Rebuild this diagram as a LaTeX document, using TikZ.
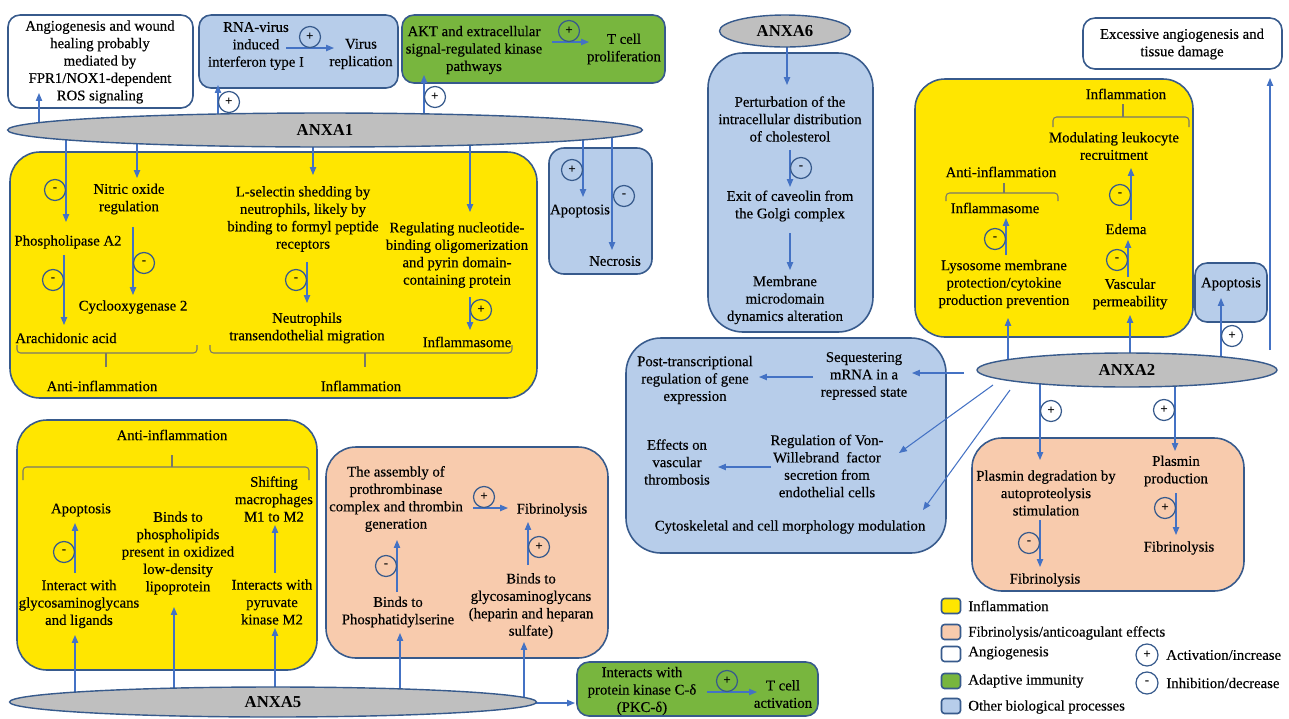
\documentclass[tikz,border=0pt]{standalone}
\usepackage{fontspec}
\setmainfont{Liberation Serif}[UprightFeatures={FakeBold=0.3}]
\usetikzlibrary{arrows.meta,fit,shapes.geometric}
\definecolor{cyel}{RGB}{255,230,0}
\definecolor{csal}{RGB}{248,203,173}
\definecolor{cblu}{RGB}{183,205,234}
\definecolor{cgrn}{RGB}{120,182,62}
\definecolor{cbrd}{RGB}{55,90,140}
\definecolor{carr}{RGB}{68,114,196}
\definecolor{cgry}{RGB}{191,191,191}
\definecolor{cbrc}{RGB}{120,120,105}
\newcommand\fsz{\fontsize{8.4}{9.9}\selectfont}
\newcommand\fsg{\fontsize{7.5}{7.5}\selectfont\bfseries}
\begin{document}
\begin{tikzpicture}[x=0.02cm,y=-0.02cm,
  txt/.style={font=\fsz, align=center, inner sep=0pt},
  ltxt/.style={font=\fsz, anchor=west, inner sep=0pt},
  bx/.style={draw=cbrd, line width=0.9pt, inner sep=0pt},
  wbox/.style={bx, fill=white, rounded corners=0.24cm},
  bbox/.style={bx, fill=cblu, rounded corners=0.3cm},
  gbox/.style={bx, fill=cgrn, rounded corners=0.24cm},
  ybox/.style={bx, fill=cyel, rounded corners=0.6cm},
  sbox/.style={bx, fill=csal, rounded corners=0.6cm},
  bbig/.style={bx, fill=cblu, rounded corners=0.7cm},
  ell/.style={ellipse, draw=cbrd, line width=0.8pt, fill=cgry, inner sep=0pt, font=\fontsize{9.5}{9.5}\selectfont\bfseries},
  arr/.style={draw=carr, line width=0.6pt, -{Triangle[length=4.5pt,width=3.6pt]}},
  sgn/.style={circle, draw=cbrd, line width=0.7pt, minimum size=0.42cm, inner sep=0pt, font=\fsg},
  brc/.style={draw=cbrc, line width=0.6pt, rounded corners=0.07cm},
  leg/.style={bx, rounded corners=0.06cm, minimum width=0.38cm, minimum height=0.3cm}
]
\useasboundingbox (0,0) rectangle (1289,718);

% ---------------- boxes ----------------
\node[wbox, fit={(8,15)(193,108)}] (bw1) {};
\node[bbox, rounded corners=0.24cm, fit={(199,15)(398,88)}] (bb1) {};
\node[gbox, fit={(402,15)(665,83)}] (bg1) {};
\node[ybox, fit={(10,152)(537,398)}] (by1) {};
\node[bbox, fit={(549,148)(652,274)}] (bb2) {};
\node[bbox, rounded corners=0.7cm, fit={(708,53)(873,332)}] (bb3) {};
\node[wbox, fit={(1083,18)(1282,69)}] (bw2) {};
\node[ybox, fit={(915,79)(1193,337)}] (by2) {};
\node[bbox, rounded corners=0.24cm, fit={(1195,263)(1267,322)}] (bb4) {};
\node[bbig, fit={(626,338)(946,553)}] (bb5) {};
\node[sbox, fit={(972,438)(1244,591)}] (bs1) {};
\node[ybox, fit={(17,420)(317,670)}] (by3) {};
\node[sbox, fit={(326,447)(608,658)}] (bs2) {};
\node[gbox, fit={(577,662)(818,716)}] (bg2) {};

% ---------------- texts: top ----------------
\node[txt] (t1) at (100,62) {Angiogenesis and wound\\healing probably\\mediated by\\FPR1/NOX1-dependent\\ROS signaling};
\node[txt] (t2) at (256,46) {RNA-virus\\induced\\interferon type I};
\node[txt] (t3) at (361,54) {Virus\\replication};
\node[txt] (t4) at (474,50) {AKT and extracellular\\signal-regulated kinase\\pathways};
\node[txt] (t5) at (624,49) {T cell\\proliferation};

% ANXA1 yellow
\node[txt] (t6) at (129,199) {Nitric oxide\\regulation};
\node[txt] (t7) at (68,242) {Phospholipase A2};
\node[txt] (t8) at (133,307) {Cyclooxygenase 2};
\node[txt] (t9) at (66,338) {Arachidonic acid};
\node[txt] (t10) at (303,219) {L-selectin shedding by\\neutrophils, likely by\\binding to formyl peptide\\receptors};
\node[txt] (t11) at (307,328) {Neutrophils\\transendothelial migration};
\node[txt] (t12) at (457,255) {Regulating nucleotide-\\binding oligomerization\\and pyrin domain-\\containing protein};
\node[txt] (t13) at (467,342) {Inflammasome};
\node[txt] (t14) at (102,386) {Anti-inflammation};
\node[txt] (t15) at (361,386) {Inflammation};
\node[txt] (t16) at (580,211) {Apoptosis};
\node[txt] (t17) at (615,261) {Necrosis};

% ANXA6
\node[txt] (t18) at (790,119) {Perturbation of the\\intracellular distribution\\of cholesterol};
\node[txt] (t19) at (790,206) {Exit of caveolin from\\the Golgi complex};
\node[txt] (t20) at (785,300) {Membrane\\microdomain\\dynamics alteration};

% ANXA2 top
\node[txt] (t21) at (1182,44) {Excessive angiogenesis and\\tissue damage};
\node[txt] (t22) at (1126,94) {Inflammation};
\node[txt] (t23) at (1114,146) {Modulating leukocyte\\recruitment};
\node[txt] (t24) at (1126,229) {Edema};
\node[txt] (t25) at (1130,294) {Vascular\\permeability};
\node[txt] (t26) at (1001,172) {Anti-inflammation};
\node[txt] (t27) at (995,208) {Inflammasome};
\node[txt] (t28) at (1004,284) {Lysosome membrane\\protection/cytokine\\production prevention};
\node[txt] (t29) at (1231,284) {Apoptosis};

% ANXA2 big blue
\node[txt] (t30) at (695,380) {Post-transcriptional\\regulation of gene\\expression};
\node[txt] (t31) at (864,376) {Sequestering\\mRNA in a\\repressed state};
\node[txt] (t32) at (677,462) {Effects on\\vascular\\thrombosis};
\node[txt] (t33) at (827,466) {Regulation of Von-\\Willebrand~ factor\\secretion from\\endothelial cells};
\node[txt] (t34) at (790,527) {Cytoskeletal and cell morphology modulation};

% ANXA2 salmon
\node[txt] (t35) at (1046,493) {Plasmin degradation by\\autoproteolysis\\stimulation};
\node[txt] (t36) at (1045,580) {Fibrinolysis};
\node[txt] (t37) at (1176,471) {Plasmin\\production};
\node[txt] (t38) at (1179,548) {Fibrinolysis};

% ANXA5 yellow
\node[txt] (t39) at (172,435) {Anti-inflammation};
\node[txt] (t40) at (274,499) {Shifting\\macrophages\\M1 to M2};
\node[txt] (t41) at (81,510) {Apoptosis};
\node[txt] (t42) at (178,553) {Binds to\\phospholipids\\present in oxidized\\low-density\\lipoprotein};
\node[txt] (t43) at (79,604) {Interact with\\glycosaminoglycans\\and ligands};
\node[txt] (t44) at (272,602) {Interacts with\\pyruvate\\kinase M2};

% ANXA5 salmon
\node[txt] (t45) at (396,499) {The assembly of\\prothrombinase\\complex and thrombin\\generation};
\node[txt] (t46) at (552,510) {Fibrinolysis};
\node[txt] (t47) at (398,612) {Binds to\\Phosphatidylserine};
\node[txt] (t48) at (531,606) {Binds to\\glycosaminoglycans\\(heparin and heparan\\sulfate)};

% ANXA5 green
\node[txt] (t49) at (642,691) {Interacts with\\protein kinase C-δ\\(PKC-δ)};
\node[txt] (t50) at (783,694) {T cell\\activation};

% ---------------- braces ----------------
\draw[brc] (17,345) -- (17,353) -- (197,353) -- (197,345);
\draw[brc] (106,353) -- (106,367);
\draw[brc] (210,345) -- (210,353) -- (512,353) -- (512,345);
\draw[brc] (365,353) -- (365,367);
\draw[brc] (1053,127) -- (1053,117) -- (1189,117) -- (1189,127);
\draw[brc] (1123,117) -- (1123,104);
\draw[brc] (946,201) -- (946,193) -- (1058,193) -- (1058,201);
\draw[brc] (1004,193) -- (1004,183);
\draw[brc] (23,480) -- (23,467) -- (309,467) -- (309,480);
\draw[brc] (172,467) -- (172,455);

% ---------------- arrow end points ----------------
\path (39,125) coordinate (p1) (39,93) coordinate (q1)
      (218,130) coordinate (p2) (218,85) coordinate (q2)
      (286,48) coordinate (p3) (334,48) coordinate (q3)
      (424,130) coordinate (p4) (424,75) coordinate (q4)
      (552,42) coordinate (p5) (589,42) coordinate (q5)
      (66,130) coordinate (p6) (66,222) coordinate (q6)
      (137,130) coordinate (p7) (137,178) coordinate (q7)
      (313,130) coordinate (p8) (313,175) coordinate (q8)
      (470,130) coordinate (p9) (470,212) coordinate (q9)
      (583,130) coordinate (p10) (583,197) coordinate (q10)
      (612,130) coordinate (p11) (612,250) coordinate (q11)
      (133,227) coordinate (p12) (133,295) coordinate (q12)
      (64,255) coordinate (p13) (64,325) coordinate (q13)
      (307,262) coordinate (p14) (307,303) coordinate (q14)
      (470,297) coordinate (p15) (470,330) coordinate (q15)
      (787,31) coordinate (p16) (787,85) coordinate (q16)
      (790,150) coordinate (p17) (790,187) coordinate (q17)
      (790,233) coordinate (p18) (790,270) coordinate (q18)
      (1008,370) coordinate (p19) (1008,318) coordinate (q19)
      (1130,370) coordinate (p20) (1130,315) coordinate (q20)
      (1006,255) coordinate (p21) (1006,218) coordinate (q21)
      (1128,277) coordinate (p22) (1128,240) coordinate (q22)
      (1131,220) coordinate (p23) (1131,168) coordinate (q23)
      (1221,370) coordinate (p24) (1221,298) coordinate (q24)
      (1270,350) coordinate (p25) (1270,78) coordinate (q25)
      (964,373) coordinate (p26) (912,373) coordinate (q26)
      (813,377) coordinate (p27) (759,377) coordinate (q27)
      (771,467) coordinate (p28) (718,467) coordinate (q28)
      (993,385) coordinate (p29) (899,453) coordinate (q29)
      (1010,390) coordinate (p30) (923,510) coordinate (q30)
      (1040,370) coordinate (p31) (1040,460) coordinate (q31)
      (1175,370) coordinate (p32) (1175,451) coordinate (q32)
      (1040,520) coordinate (p33) (1040,567) coordinate (q33)
      (1176,493) coordinate (p34) (1176,535) coordinate (q34)
      (75,702) coordinate (p35) (75,635) coordinate (q35)
      (174,702) coordinate (p36) (174,607) coordinate (q36)
      (275,702) coordinate (p37) (275,628) coordinate (q37)
      (75,573) coordinate (p38) (75,523) coordinate (q38)
      (275,573) coordinate (p39) (275,525) coordinate (q39)
      (400,702) coordinate (p40) (400,633) coordinate (q40)
      (524,702) coordinate (p41) (524,642) coordinate (q41)
      (473,508) coordinate (p42) (508,508) coordinate (q42)
      (397,592) coordinate (p43) (397,540) coordinate (q43)
      (528,565) coordinate (p44) (528,522) coordinate (q44)
      (530,703) coordinate (p45) (575,703) coordinate (q45)
      (707,692) coordinate (p46) (757,692) coordinate (q46);
\foreach \i in {1,...,46} { \draw[arr] (p\i) -- (q\i); }

% ---------------- ellipses ----------------
\node[ell, minimum width=12.7cm, minimum height=0.68cm] (e1) at (325,130) {ANXA1};
\node[ell, minimum width=2.62cm, minimum height=0.64cm] (e6) at (785,31) {ANXA6};
\node[ell, minimum width=6cm, minimum height=0.68cm] (e2) at (1127,370) {ANXA2};
\node[ell, minimum width=10.54cm, minimum height=0.6cm] (e5) at (273,702) {ANXA5};

% ---------------- signs ----------------
\node[sgn] (s1) at (310,37) {+};
\node[sgn] (s2) at (229,102) {+};
\node[sgn] (s3) at (569,31) {+};
\node[sgn] (s4) at (435,97) {+};
\node[sgn] (s5) at (55,190) {-};
\node[sgn] (s6) at (144,263) {-};
\node[sgn] (s7) at (53,280) {-};
\node[sgn] (s8) at (296,280) {-};
\node[sgn] (s9) at (481,310) {+};
\node[sgn] (s10) at (572,170) {+};
\node[sgn] (s11) at (624,196) {-};
\node[sgn] (s12) at (801,168) {-};
\node[sgn] (s13) at (1120,195) {-};
\node[sgn] (s14) at (1117,260) {-};
\node[sgn] (s15) at (995,239) {-};
\node[sgn] (s16) at (1232,336) {+};
\node[sgn] (s17) at (1051,411) {+};
\node[sgn] (s18) at (1164,410) {+};
\node[sgn] (s19) at (1029,543) {-};
\node[sgn] (s20) at (1165,508) {+};
\node[sgn] (s21) at (64,552) {-};
\node[sgn] (s22) at (484,497) {+};
\node[sgn] (s23) at (386,566) {-};
\node[sgn] (s24) at (539,547) {+};
\node[sgn] (s25) at (727,681) {+};

% ---------------- legend ----------------
\node[leg, fill=cyel] (l1) at (951,606) {};
\node[leg, fill=csal] (l2) at (951,632) {};
\node[leg, fill=white] (l3) at (951,654) {};
\node[leg, fill=cgrn] (l4) at (951,681) {};
\node[leg, fill=cblu] (l5) at (951,706) {};
\node[ltxt] (lt1) at (968,606) {Inflammation};
\node[ltxt] (lt2) at (968,633) {Fibrinolysis/anticoagulant effects};
\node[ltxt] (lt3) at (968,653) {Angiogenesis};
\node[ltxt] (lt4) at (968,681) {Adaptive immunity};
\node[ltxt] (lt5) at (968,707) {Other biological processes};
\node[sgn, minimum size=0.44cm] (ls1) at (1147,655) {+};
\node[sgn, minimum size=0.44cm] (ls2) at (1147,683) {-};
\node[ltxt] (lt6) at (1166,655) {Activation/increase};
\node[ltxt] (lt7) at (1166,683) {Inhibition/decrease};
\end{tikzpicture}
\end{document}
